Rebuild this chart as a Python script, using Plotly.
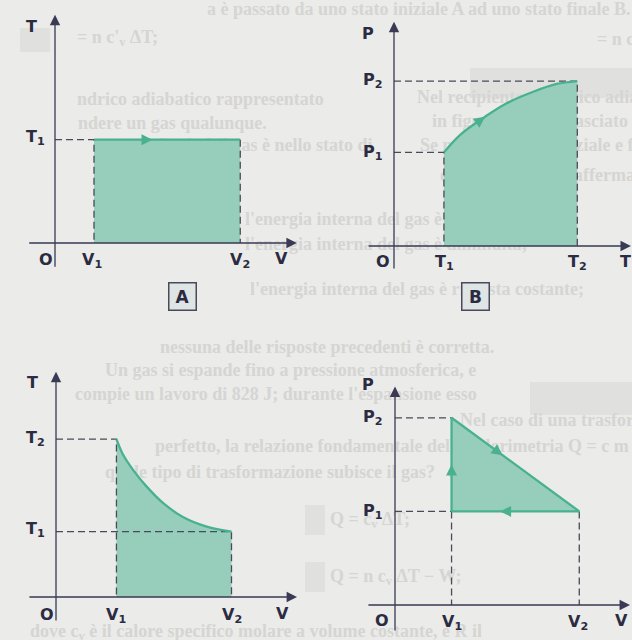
import plotly.graph_objects as go

W, H = 632, 640
S = 19.5  # pixels per data unit, same scale in all four panels

BG = "#ebebe9"
INK = "#2b2b42"
AXIS = "#3a3a55"
DASH = "#4a4a58"
FILL = "#97cdbb"
LINE = "#48b190"
GHOST = "#d5d5d3"
FONT = "DejaVu Sans"

# A: T against V at constant temperature
A_V = [2.0, 9.5]
A_T = [5.3, 5.3]

# B: P against T
B_T = [2.56, 3.38, 4.67, 5.78, 7.14, 8.34, 9.4]
B_P = [4.8, 5.69, 6.63, 7.32, 7.91, 8.31, 8.46]

# C: T against V
C_V = [3.1, 3.45, 3.96, 4.65, 5.5, 6.53, 7.73, 9.0]
C_T = [8.1, 7.28, 6.51, 5.66, 4.81, 4.09, 3.61, 3.35]

# D: closed P-V cycle
D_V = [2.9, 2.9, 9.45, 2.9]
D_P = [4.8, 9.6, 4.8, 4.8]

# panel placement: origin in pixels, axis ranges, extent of the drawn arrows
PANELS = [
    dict(origin=(55, 243), xr=(-2.0, 13.0), yr=(-2.0, 12.0), xa=(-1.4, 12.4), ya=(-1.3, 11.7), box=("A", 168, 296)),
    dict(origin=(394, 246), xr=(-1.6, 12.2), yr=(-2.0, 12.0), xa=(-1.38, 12.15), ya=(-1.23, 11.5), box=("B", 490, 296)),
    dict(origin=(56, 597), xr=(-2.0, 13.0), yr=(-2.0, 12.0), xa=(-1.44, 12.36), ya=(-1.28, 11.55), box=None),
    dict(origin=(395, 605), xr=(-1.6, 12.1), yr=(-1.75, 12.0), xa=(-1.44, 12.05), ya=(-1.38, 11.2), box=None),
]

# show-through text of the scanned page (x, y in page pixels)
GHOST_X = [207, 77, 597, 417, 77, 432, 78, 420, 157, 440, 245, 245, 250, 160, 105, 75, 460,
           155, 105, 330, 330, 30]
GHOST_Y = [10, 38, 40, 98, 100, 122, 124, 146, 146, 176, 220, 245, 290, 348, 371, 395, 421,
           447, 473, 520, 577, 632]
GHOST_TEXT = [
    "a è passato da uno stato iniziale A ad uno stato finale B.",
    "= n c'<sub>v</sub> ΔT;",
    "= n c'<sub>v</sub> ΔT;",
    "Nel recipiente cilindrico adiabatico rappresentato",
    "ndrico adiabatico rappresentato",
    "in figura 15 viene lasciato espandere un gas qualunque.",
    "ndere un gas qualunque.",
    "Se nelle posizioni iniziale e finale 2 il gas è nello stato di",
    "finale 2 il gas è nello stato di",
    "equilibrio, si può affermare che:",
    "l'energia interna del gas è aumentata;",
    "l'energia interna del gas è diminuita;",
    "l'energia interna del gas è rimasta costante;",
    "nessuna delle risposte precedenti è corretta.",
    "Un gas si espande fino a pressione atmosferica, e",
    "compie un lavoro di 828 J; durante l'espansione esso",
    "Nel caso di una trasformazione isocora di un gas",
    "perfetto, la relazione fondamentale della calorimetria Q = c m ΔT",
    "quale tipo di trasformazione subisce il gas?   diventa:",
    "Q = c<sub>v</sub> ΔT;",
    "Q = n c<sub>v</sub> ΔT − W;",
    "dove c<sub>v</sub> è il calore specifico molare a volume costante, e R il",
]

fig = go.Figure()
annotations = []

# subplot 1 is the whole page (pixel units) so the show-through text sits under every panel
layout_axes = {
    "xaxis": dict(range=[0, W], domain=[0, 1], anchor="y", visible=False, fixedrange=True),
    "yaxis": dict(range=[H, 0], domain=[0, 1], anchor="x", visible=False, fixedrange=True),
}
fig.add_trace(go.Scatter(x=GHOST_X, y=GHOST_Y, text=[f"<b>{t}</b>" for t in GHOST_TEXT], mode="text",
                         textposition="middle right", cliponaxis=False, hoverinfo="skip",
                         textfont=dict(family="Liberation Serif", size=18, color=GHOST)))


def refs(i):
    return "x" + str(i + 1), "y" + str(i + 1)


for i, p in enumerate(PANELS, start=1):
    sfx = str(i + 1)
    ox, oy = p["origin"]
    xr, yr = p["xr"], p["yr"]
    xd = [max(0, (ox + xr[0] * S) / W), min(1, (ox + xr[1] * S) / W)]
    yd = [max(0, 1 - (oy - yr[0] * S) / H), min(1, 1 - (oy - yr[1] * S) / H)]
    layout_axes["xaxis" + sfx] = dict(range=list(xr), domain=xd, anchor="y" + sfx, visible=False, fixedrange=True)
    layout_axes["yaxis" + sfx] = dict(range=list(yr), domain=yd, anchor="x" + sfx, visible=False, fixedrange=True)


def area(i, xs, ys, fill="tozeroy", shape="linear"):
    xref, yref = refs(i)
    fig.add_trace(go.Scatter(x=xs, y=ys, xaxis=xref, yaxis=yref, mode="lines", fill=fill,
                             fillcolor=FILL, line=dict(width=0, shape=shape), hoverinfo="skip"))


def dashed(i, xs, ys):
    xref, yref = refs(i)
    fig.add_trace(go.Scatter(x=xs, y=ys, xaxis=xref, yaxis=yref, mode="lines",
                             line=dict(color=DASH, width=1.3, dash="7px,4px"), hoverinfo="skip"))


def path(i, xs, ys, shape="linear"):
    xref, yref = refs(i)
    fig.add_trace(go.Scatter(x=xs, y=ys, xaxis=xref, yaxis=yref, mode="lines",
                             line=dict(color=LINE, width=2.3, shape=shape), hoverinfo="skip"))


def flow_arrow(i, x0, y0, x1, y1, frac):
    xref, yref = refs(i)
    hx, hy = x0 + frac * (x1 - x0), y0 + frac * (y1 - y0)
    d = ((x1 - x0) ** 2 + (y1 - y0) ** 2) ** 0.5
    tx, ty = hx - 0.5 * (x1 - x0) / d, hy - 0.5 * (y1 - y0) / d
    annotations.append(dict(x=hx, y=hy, ax=tx, ay=ty, xref=xref, yref=yref, axref=xref, ayref=yref,
                            text="", showarrow=True, arrowhead=2, arrowsize=1.1, arrowwidth=2,
                            arrowcolor=LINE))


def label(i, text, x, y, size=16):
    xref, yref = refs(i)
    annotations.append(dict(x=x, y=y, xref=xref, yref=yref, text=f"<b>{text}</b>", showarrow=False,
                            xanchor="center", yanchor="middle",
                            font=dict(family=FONT, size=size, color=INK)))


# fills
area(1, A_V, A_T)
area(2, B_T, B_P, shape="spline")
area(3, C_V, C_T, shape="spline")
area(4, D_V, D_P, fill="toself")

# guide lines
dashed(1, [0, A_V[0], A_V[0], None, A_V[1], A_V[1]], [A_T[0], A_T[0], 0, None, A_T[-1], 0])
dashed(2, [0, B_T[-1], B_T[-1], None, 0, B_T[0], B_T[0]], [B_P[-1], B_P[-1], 0, None, B_P[0], B_P[0], 0])
dashed(3, [0, C_V[0], C_V[0], None, 0, C_V[-1], C_V[-1]], [C_T[0], C_T[0], 0, None, C_T[-1], C_T[-1], 0])
dashed(4, [0, D_V[1], None, 0, D_V[0], None, D_V[0], D_V[0], None, D_V[2], D_V[2]],
       [D_P[1], D_P[1], None, D_P[0], D_P[0], None, D_P[0], 0, None, D_P[2], 0])

# process paths
path(1, A_V, A_T)
path(2, B_T, B_P, shape="spline")
path(3, C_V, C_T, shape="spline")
path(4, D_V, D_P)

# direction arrows
flow_arrow(1, A_V[0], A_T[0], A_V[1], A_T[1], 0.4)
flow_arrow(2, B_T[1], B_P[1], B_T[2], B_P[2], 1.0)
flow_arrow(4, D_V[0], D_P[0], D_V[1], D_P[1], 0.5)
flow_arrow(4, D_V[1], D_P[1], D_V[2], D_P[2], 0.4)
flow_arrow(4, D_V[2], D_P[2], D_V[3], D_P[3], 0.62)

# coordinate axes with arrow heads
for i, p in enumerate(PANELS, start=1):
    xref, yref = refs(i)
    for hx, hy, tx, ty in [(p["xa"][1], 0, p["xa"][0], 0), (0, p["ya"][1], 0, p["ya"][0])]:
        annotations.append(dict(x=hx, y=hy, ax=tx, ay=ty, xref=xref, yref=yref, axref=xref, ayref=yref,
                                text="", showarrow=True, arrowhead=2, arrowsize=1.6, arrowwidth=1.3,
                                arrowcolor=AXIS))
    if p["box"]:
        t, bx, by = p["box"]
        annotations.append(dict(x=bx / W, y=1 - by / H, xref="paper", yref="paper", text=f"<b>{t}</b>",
                                showarrow=False, width=22, height=22, borderpad=2, borderwidth=1.5,
                                bordercolor="#4a4a5a", bgcolor="#dfe4e4",
                                font=dict(family=FONT, size=17, color=INK)))

# axis labels
label(1, "T", -1.2, 11.1)
label(1, "T<sub>1</sub>", -1.0, A_T[0] + 0.1)
label(1, "O", -0.45, -0.85)
label(1, "V<sub>1</sub>", A_V[0] - 0.1, -0.9)
label(1, "V<sub>2</sub>", A_V[1], -0.9)
label(1, "V", 11.6, -0.8)

label(2, "P", -1.33, 10.9)
label(2, "P<sub>2</sub>", -1.1, B_P[-1] + 0.05)
label(2, "P<sub>1</sub>", -1.1, B_P[0])
label(2, "O", -0.56, -0.82)
label(2, "T<sub>1</sub>", B_T[0] + 0.05, -0.85)
label(2, "T<sub>2</sub>", B_T[-1], -0.85)
label(2, "T", 11.85, -0.82)

label(3, "T", -1.23, 11.0)
label(3, "T<sub>2</sub>", -1.05, C_T[0] + 0.05)
label(3, "T<sub>1</sub>", -1.05, C_T[-1] + 0.1)
label(3, "O", -0.46, -0.92)
label(3, "V<sub>1</sub>", C_V[0], -0.95)
label(3, "V<sub>2</sub>", C_V[-1] + 0.05, -0.95)
label(3, "V", 11.64, -0.85)

label(4, "P", -1.38, 11.3)
label(4, "P<sub>2</sub>", -1.15, D_P[1])
label(4, "P<sub>1</sub>", -1.15, D_P[0])
label(4, "O", -0.67, -0.8)
label(4, "V<sub>1</sub>", D_V[0], -0.9)
label(4, "V<sub>2</sub>", D_V[2] - 0.05, -0.9)
label(4, "V", 11.64, -0.8)

# darker printed blocks that show through the page
BLOCKS = [(470, 632, 68, 98), (530, 632, 382, 415), (20, 50, 28, 52), (305, 325, 505, 535), (305, 325, 562, 592)]
shapes = [dict(type="rect", xref="paper", yref="paper", x0=x0 / W, x1=x1 / W, y0=1 - y1 / H, y1=1 - y0 / H,
               fillcolor="#e0e0de", line_width=0, layer="below") for x0, x1, y0, y1 in BLOCKS]

fig.update_layout(
    width=W, height=H, margin=dict(l=0, r=0, t=0, b=0),
    paper_bgcolor=BG, plot_bgcolor="rgba(0,0,0,0)", showlegend=False,
    annotations=annotations, shapes=shapes,
    **layout_axes,
)

# the page body has a default 8px margin; drop it so the figure fills the window
fig.write_html("out.html", config={"displayModeBar": False},
               post_script="document.body.style.margin='0';")
